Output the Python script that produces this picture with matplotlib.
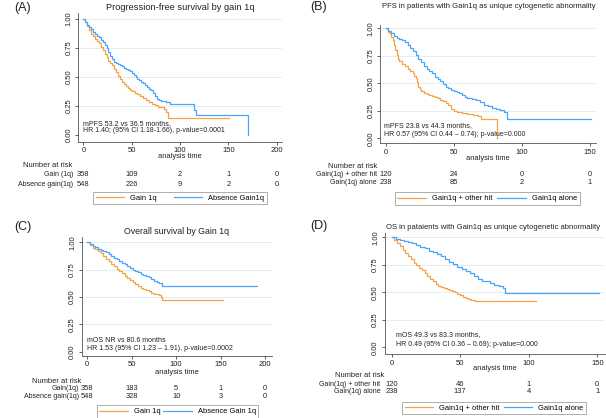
import matplotlib
matplotlib.use("Agg")
import matplotlib.pyplot as plt
from matplotlib.transforms import blended_transform_factory

plt.rcParams['font.family'] = ['Liberation Sans', 'DejaVu Sans']

W, H = 606, 418
ORANGE = "#F4A445"
BLUE = "#4AA5FF"
GRID = "#E4EEF1"
SPINE = "#555555"

# ---------------- data ----------------
# Panel A: PFS by gain 1q
a_gain_t = [0, 2, 4, 6, 8, 10, 12, 14, 16, 18, 20, 22, 24, 26, 28, 30, 32, 34, 36, 38, 40, 42, 44, 46, 48, 50,
            53, 56, 59, 62, 65, 68, 71, 74, 77, 80, 83, 85, 86, 88, 151]
a_gain_s = [1.0, 0.97, 0.94, 0.90, 0.87, 0.85, 0.83, 0.81, 0.79, 0.76, 0.73, 0.70, 0.67, 0.64, 0.62, 0.60, 0.57,
            0.545, 0.51, 0.48, 0.46, 0.44, 0.42, 0.405, 0.39, 0.38, 0.365, 0.35, 0.335, 0.32, 0.30, 0.285, 0.27,
            0.255, 0.245, 0.24, 0.225, 0.22, 0.20, 0.145, 0.145]
a_abs_t = [0, 2, 4, 6, 8, 10, 12, 14, 16, 18, 20, 22, 24, 26, 28, 30, 32, 34, 36, 38, 40, 42, 44, 46, 48, 50, 52,
           54, 56, 58, 60, 62, 64, 66, 68, 70, 72, 74, 76, 78, 80, 85, 90, 114, 117, 170]
a_abs_s = [1.0, 0.975, 0.95, 0.93, 0.91, 0.89, 0.87, 0.855, 0.84, 0.82, 0.80, 0.775, 0.75, 0.71, 0.68, 0.65, 0.63,
           0.62, 0.61, 0.60, 0.59, 0.58, 0.57, 0.56, 0.55, 0.535, 0.515, 0.50, 0.485, 0.47, 0.46, 0.445, 0.43,
           0.415, 0.40, 0.385, 0.36, 0.335, 0.31, 0.30, 0.29, 0.28, 0.27, 0.215, 0.17, 0.0]
a_risk_times = [0, 50, 100, 150, 200]
a_risk_gain = [358, 109, 2, 1, 0]
a_risk_abs = [548, 226, 9, 2, 0]

# Panel B: PFS, gain1q unique abnormality
b_hit_t = [0, 1, 2, 3, 4, 5, 6, 7, 8, 9, 10, 12, 14, 16, 18, 20, 21, 22, 23, 24, 25, 26, 28, 30, 32, 34, 36, 38,
           40, 42, 44, 46, 48, 50, 52, 54, 56, 60, 64, 68, 70, 82]
b_hit_s = [1.0, 0.99, 0.97, 0.95, 0.92, 0.89, 0.85, 0.80, 0.76, 0.72, 0.70, 0.68, 0.66, 0.63, 0.61, 0.59, 0.57,
           0.55, 0.51, 0.47, 0.45, 0.43, 0.41, 0.40, 0.39, 0.385, 0.375, 0.365, 0.35, 0.335, 0.32, 0.30, 0.27,
           0.25, 0.24, 0.235, 0.23, 0.22, 0.21, 0.20, 0.18, 0.0]
b_alone_t = [0, 2, 4, 6, 8, 10, 12, 14, 16, 18, 20, 22, 24, 26, 28, 30, 32, 34, 36, 38, 40, 42, 44, 46, 48, 50,
             52, 54, 56, 58, 60, 63, 66, 69, 72, 75, 78, 81, 84, 87, 89, 151]
b_alone_s = [1.0, 0.98, 0.96, 0.93, 0.91, 0.90, 0.89, 0.88, 0.85, 0.82, 0.79, 0.76, 0.72, 0.69, 0.66, 0.63, 0.61,
             0.59, 0.56, 0.54, 0.52, 0.49, 0.47, 0.455, 0.44, 0.43, 0.42, 0.41, 0.395, 0.38, 0.37, 0.355, 0.345,
             0.33, 0.30, 0.295, 0.28, 0.27, 0.26, 0.24, 0.18, 0.18]
b_risk_times = [0, 50, 100, 150]
b_risk_hit = [120, 24, 0, 0]
b_risk_alone = [238, 85, 2, 1]

# Panel C: OS by gain 1q
c_gain_t = [0, 3, 6, 9, 12, 15, 18, 21, 24, 27, 30, 33, 36, 39, 42, 45, 48, 51, 54, 57, 60, 63, 66, 69, 72, 75,
            78, 81, 83, 84, 153]
c_gain_s = [1.0, 0.98, 0.95, 0.94, 0.92, 0.90, 0.875, 0.85, 0.83, 0.805, 0.78, 0.755, 0.735, 0.715, 0.695, 0.675,
            0.655, 0.635, 0.62, 0.60, 0.585, 0.57, 0.56, 0.55, 0.54, 0.53, 0.525, 0.515, 0.50, 0.47, 0.47]
c_abs_t = [0, 3, 6, 9, 12, 15, 18, 21, 24, 27, 30, 33, 36, 39, 42, 45, 48, 51, 54, 57, 60, 63, 66, 69, 72, 75,
           78, 81, 84, 191]
c_abs_s = [1.0, 0.985, 0.97, 0.955, 0.94, 0.93, 0.92, 0.91, 0.89, 0.875, 0.86, 0.845, 0.83, 0.815, 0.80, 0.78,
           0.765, 0.75, 0.74, 0.725, 0.71, 0.70, 0.69, 0.68, 0.665, 0.65, 0.64, 0.63, 0.60, 0.60]
c_risk_times = [0, 50, 100, 150, 200]
c_risk_gain = [358, 183, 5, 1, 0]
c_risk_abs = [548, 328, 10, 3, 0]

# Panel D: OS, gain1q unique abnormality
d_hit_t = [0, 2, 4, 6, 8, 10, 12, 14, 16, 18, 20, 22, 24, 26, 28, 30, 32, 34, 36, 38, 40, 42, 44, 46, 48, 50, 52,
           54, 56, 58, 61, 105]
d_hit_s = [1.0, 0.98, 0.95, 0.92, 0.89, 0.86, 0.83, 0.80, 0.77, 0.745, 0.72, 0.70, 0.675, 0.65, 0.625, 0.60,
           0.58, 0.56, 0.55, 0.54, 0.532, 0.525, 0.515, 0.505, 0.49, 0.475, 0.46, 0.45, 0.44, 0.435, 0.425, 0.425]
d_alone_t = [0, 3, 6, 9, 12, 15, 18, 21, 24, 27, 30, 33, 36, 39, 42, 45, 48, 51, 54, 57, 60, 63, 66, 69, 72, 75,
             78, 81, 83, 151]
d_alone_s = [1.0, 0.985, 0.975, 0.97, 0.955, 0.945, 0.93, 0.915, 0.905, 0.88, 0.865, 0.85, 0.83, 0.805, 0.78,
             0.755, 0.735, 0.715, 0.695, 0.675, 0.645, 0.625, 0.605, 0.60, 0.585, 0.57, 0.555, 0.54, 0.495, 0.495]
d_risk_times = [0, 50, 100, 150]
d_risk_hit = [120, 46, 1, 0]
d_risk_alone = [238, 137, 4, 1]

yticks = [0, 0.25, 0.5, 0.75, 1.0]
ytick_labels = ["0.00", "0.25", "0.50", "0.75", "1.00"]

fig = plt.figure(figsize=(W / 100, H / 100), dpi=100)


def fx(x):
    return x / W


def fy(y):
    return 1 - y / H


def T(x, y, s, size=5.5, ha="left", va="center", **kw):
    fig.text(fx(x), fy(y), s, fontsize=size, ha=ha, va=va, color="#222222", **kw)


def panel(box, xlim, ylim, xticks, series, letter, title, title_x, title_y, title_size,
          atime_xy, annot, risk_head, risk_rows, risk_times, legend_box, labels):
    l, r, t, b = box
    ax = fig.add_axes([fx(l), fy(b), fx(r - l), (b - t) / H])
    for yv in yticks[1:]:
        ax.axhline(yv, color=GRID, lw=0.7, zorder=0)
    lines = []
    for (tt, ss), col in zip(series, [ORANGE, BLUE]):
        ln, = ax.step(tt, ss, where="post", color=col, lw=0.9)
        lines.append(ln)
    ax.set_xlim(*xlim)
    ax.set_ylim(*ylim)
    ax.set_xticks(xticks)
    ax.set_yticks(yticks)
    ax.set_yticklabels(ytick_labels, rotation=90, va="center")
    ax.tick_params(direction="out", length=2.5, width=0.5, labelsize=5.5, colors="#222222", pad=1.5)
    for sp in ["top", "right"]:
        ax.spines[sp].set_visible(False)
    for sp in ["left", "bottom"]:
        ax.spines[sp].set_linewidth(0.6)
        ax.spines[sp].set_color(SPINE)
    ax.patch.set_alpha(0)

    T(letter[1], letter[2], letter[0], size=9, ha="left")
    T(title_x, title_y, title, size=title_size, ha="center")
    T(atime_xy[0], atime_xy[1], "analysis time", size=5.4, ha="center")
    T(annot[0], annot[1], annot[3], size=5.0)
    T(annot[0], annot[2], annot[4], size=5.0)
    T(risk_head[0], risk_head[1], "Number at risk", size=5.4)
    trans = blended_transform_factory(ax.transData, fig.transFigure)
    for (rx, ry, lab, vals) in risk_rows:
        T(rx, ry, lab, size=5.0, ha="right")
        for tv, v in zip(risk_times, vals):
            ax.text(tv, fy(ry), str(v), transform=trans, fontsize=5.4, ha="center",
                    va="center", color="#222222", clip_on=False)
    x0, x1, y0, y1 = legend_box
    leg = fig.legend(lines, labels, loc="center", ncol=2, mode="expand",
                     bbox_to_anchor=(fx(x0), fy(y1), fx(x1 - x0), (y1 - y0) / H),
                     fontsize=5.4, handlelength=3.8, frameon=True, fancybox=False,
                     borderpad=0.35, handletextpad=0.8, borderaxespad=0)
    leg.get_frame().set_edgecolor("#888888")
    leg.get_frame().set_linewidth(0.6)
    return ax


panel(box=(78.3, 282, 13, 141.7), xlim=(-5.2, 205.5), ylim=(-0.058, 1.05),
      xticks=[0, 50, 100, 150, 200],
      series=[(a_gain_t, a_gain_s), (a_abs_t, a_abs_s)],
      letter=("(A)", 14, 8), title="Progression-free survival by gain 1q",
      title_x=180, title_y=7, title_size=6.7, atime_xy=(180, 157),
      annot=(83.3, 123.3, 130.7, "mPFS 53.2 vs 36.5 months,",
             "HR 1.40; (95% CI 1.18-1.66), p-value=0.0001"),
      risk_head=(23.3, 165.5),
      risk_rows=[(73, 175, "Gain (1q)", a_risk_gain), (73, 184, "Absence gain(1q)", a_risk_abs)],
      risk_times=a_risk_times, legend_box=(93.3, 266.7, 189.7, 206.3),
      labels=["Gain 1q", "Absence Gain1q"])

panel(box=(380.3, 596.3, 25, 143.3), xlim=(-4.0, 154.6), ylim=(-0.045, 1.03),
      xticks=[0, 50, 100, 150],
      series=[(b_hit_t, b_hit_s), (b_alone_t, b_alone_s)],
      letter=("(B)", 310, 7),
      title="PFS in patients with Gain1q as unique cytogenetic abnormality",
      title_x=489, title_y=6, title_size=5.5, atime_xy=(488, 159),
      annot=(383.7, 126, 134, "mPFS 23.8 vs 44.3 months,",
             "HR 0.57 (95% CI 0.44 \u2013 0.74); p-value=0.000"),
      risk_head=(328, 167),
      risk_rows=[(377, 174.5, "Gain(1q) + other hit", b_risk_hit), (377, 183, "Gain(1q) alone", b_risk_alone)],
      risk_times=b_risk_times, legend_box=(394.7, 579.7, 192.7, 204.5),
      labels=["Gain1q + other hit", "Gain1q alone"])

panel(box=(81.7, 271.7, 237.3, 355.7), xlim=(-6.3, 207.5), ylim=(-0.038, 1.046),
      xticks=[0, 50, 100, 150, 200],
      series=[(c_gain_t, c_gain_s), (c_abs_t, c_abs_s)],
      letter=("(C)", 14, 227), title="Overall survival by Gain 1q",
      title_x=176.7, title_y=231.7, title_size=6.3, atime_xy=(176.7, 372.3),
      annot=(87.3, 340.7, 349, "mOS NR vs 80.6 months",
             "HR 1.53 (95% CI 1.23 \u2013 1.91), p-value=0.0002"),
      risk_head=(32, 381.3),
      risk_rows=[(79.3, 388.7, "Gain(1q)", c_risk_gain), (79.3, 396.7, "Absence gain(1q)", c_risk_abs)],
      risk_times=c_risk_times, legend_box=(96.7, 258.3, 405.7, 417.3),
      labels=["Gain 1q", "Absence Gain 1q"])

panel(box=(384.7, 604.7, 233, 354), xlim=(-5.1, 155.4), ylim=(-0.06, 1.04),
      xticks=[0, 50, 100, 150],
      series=[(d_hit_t, d_hit_s), (d_alone_t, d_alone_s)],
      letter=("(D)", 310, 225.7),
      title="OS in pataients with Gain1q as unique cytogenetic abnormality",
      title_x=493.5, title_y=227.3, title_size=5.5, atime_xy=(494.7, 368.3),
      annot=(395.7, 335, 345, "mOS 49.3 vs 83.3 months,",
             "HR 0.49 (95% CI 0.36 \u2013 0.69); p-value=0.000"),
      risk_head=(334.7, 375.7),
      risk_rows=[(380.3, 384, "Gain(1q) + other hit", d_risk_hit), (380.3, 391.7, "Gain(1q) alone", d_risk_alone)],
      risk_times=d_risk_times, legend_box=(402, 586, 402, 414),
      labels=["Gain1q + other hit", "Gain1q alone"])

fig.savefig("out.png", dpi=100)
